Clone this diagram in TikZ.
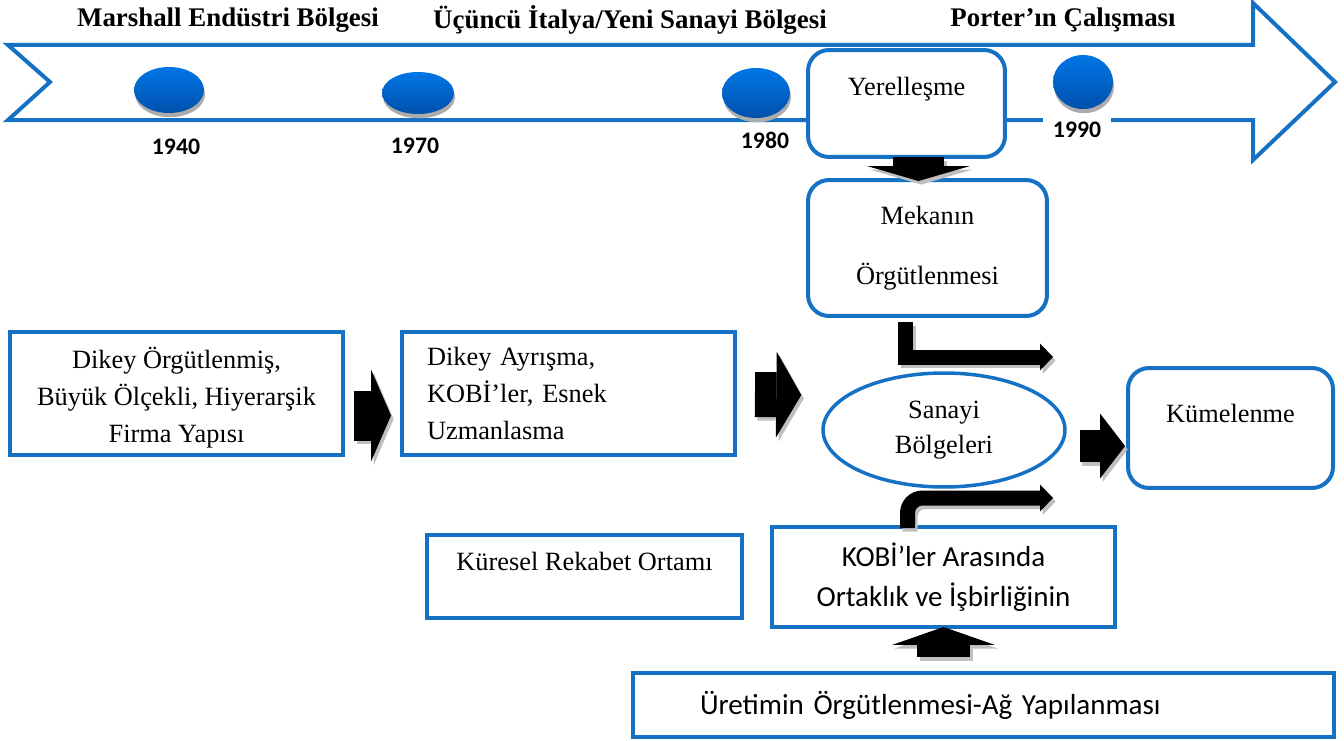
\documentclass[tikz,border=0pt]{standalone}
\usepackage{fontspec}
\setmainfont{Liberation Serif}
\newfontfamily\calfont{Carlito}
\usepackage{tikz}
\usetikzlibrary{arrows.meta}
\usetikzlibrary{shapes.geometric}
\usetikzlibrary{shadows}
\definecolor{tlblue}{RGB}{21,113,196}
\definecolor{disctop}{RGB}{0,118,230}
\definecolor{discbot}{RGB}{0,80,172}

\begin{document}
\begin{tikzpicture}[
		x=0.02cm,
		y=-0.02cm,
		every node/.style={
			inner sep=0pt
		},
		band/.style={
			draw=tlblue,
			line width=0.08cm,
			line join=miter
		},
		disc/.style={
			ellipse,
			top color=disctop,
			bottom color=discbot,
			drop shadow={shadow xshift=0.6pt, shadow yshift=-2.4pt, fill=gray!65, opacity=1}
		},
		title/.style={
			font=\bfseries\fontsize{15.3}{18}\selectfont
		},
		year/.style={
			font=\calfont\bfseries\fontsize{13.5}{16}\selectfont
		},
		box/.style={
			rectangle,
			draw=tlblue,
			line width=0.08cm,
			fill=white,
			font=\fontsize{15}{21}\selectfont
		},
		rbox/.style={
			box,
			rounded corners=0.42cm
		},
		bigarrow/.style n args={3}{
			line width=#1,
			-{Triangle[width=#2, length=#3, line width=0pt]}
		},
		shadowcopy/.style={
			color=gray!50,
			transform canvas={shift={(1.5pt,-2pt)}}
		}]

		\useasboundingbox (0,0) rectangle (1344,740);

		% time line
		\draw[band] (8,45) -- (1253,45) -- (1253,3) -- (1335,82) -- (1253,160) -- (1253,120) -- (8,120) -- (50,82) -- cycle;

		\node[disc, minimum width=1.4cm, minimum height=0.92cm] (d1940) at (169,90) {};
		\node[disc, minimum width=1.44cm, minimum height=0.84cm] (d1970) at (418,93) {};
		\node[disc, minimum width=1.36cm, minimum height=1.0cm] (d1980) at (756,93) {};
		\node[disc, minimum width=1.2cm, minimum height=1.08cm] (d1990) at (1083,82) {};

		%labels
		\node[year] (y1940) at (176,147) {1940};
		\node[year] (y1970) at (415,146) {1970};
		\node[year] (y1980) at (765,140) {1980};
		\node[year, fill=white, inner xsep=0.2cm, inner ysep=0.1cm] (y1990) at (1077,130) {1990};

		\node[title] (marshall) at (228,20) {Marshall Endüstri Bölgesi};
		\node[title] (italya) at (630,20) {Üçüncü İtalya/Yeni Sanayi Bölgesi};
		\node[title] (porter) at (1063,20) {Porter’ın Çalışması};

		% boxes
		\node[rbox, minimum width=3.94cm, text height=0.9cm, text depth=1.24cm] (yerel) at (906.5,103.5) {Yerelleşme};
		\node[rbox, minimum width=4.78cm, minimum height=2.72cm, align=center, font=\fontsize{15}{34}\selectfont] (mekan) at (927.5,248) {Mekanın\\Örgütlenmesi};
		\node[box, minimum width=6.66cm, minimum height=2.46cm, align=center] (firma) at (176.5,393.5) {\rule{0pt}{17pt}Dikey Örgütlenmiş,\\Büyük Ölçekli, Hiyerarşik\\Firma Yapısı};
		\node[box, text width=5.66cm, inner xsep=0.5cm, minimum height=2.46cm, align=left] (ayrisma) at (568.5,393.5) {Dikey Ayrışma,\\KOBİ’ler, Esnek\\Uzmanlasma};
		\node[ellipse, draw=tlblue, line width=0.07cm, minimum width=4.84cm, minimum height=2.28cm, align=center, font=\fontsize{15}{19.5}\selectfont] (sanayi) at (944,430) {Sanayi\\Bölgeleri};
		\node[rbox, minimum width=4.1cm, text height=1.08cm, text depth=1.32cm] (kume) at (1230.5,428) {Kümelenme};
		\node[box, minimum width=6.3cm, text height=0.7cm, text depth=0.96cm] (kuresel) at (584.5,576.5) {Küresel Rekabet Ortamı};
		\node[box, minimum width=6.86cm, minimum height=2cm, align=center, font=\calfont\fontsize{16.5}{22.8}\selectfont] (kobi) at (943.5,577) {KOBİ’ler Arasında\\Ortaklık ve İşbirliğinin};
		\node[box, text width=11.34cm, inner xsep=1.34cm, minimum height=1.28cm, align=left, font=\calfont\fontsize{16.5}{20}\selectfont] (uretim) at (983.5,705) {Üretimin Örgütlenmesi-Ağ Yapılanması};

		\coordinate (upend) at (1053,357);
		\coordinate (lowend) at (1053,498);

		% block arrows
		\draw[bigarrow={1cm}{1.84cm}{0.4cm}, shadowcopy] ([shift={(9,22)}]firma.east) -- ([shift={(-9,22)}]ayrisma.west);
		\draw[bigarrow={1cm}{1.84cm}{0.4cm}] ([shift={(9,22)}]firma.east) -- ([shift={(-9,22)}]ayrisma.west);
		\draw[bigarrow={0.9cm}{1.72cm}{0.5cm}, shadowcopy] ([shift={(18,1)}]ayrisma.east) -- ([shift={(-20,-35)}]sanayi.west);
		\draw[bigarrow={0.9cm}{1.72cm}{0.5cm}] ([shift={(18,1)}]ayrisma.east) -- ([shift={(-20,-35)}]sanayi.west);
		\draw[bigarrow={0.64cm}{1.3cm}{0.5cm}, shadowcopy] ([shift={(13,16)}]sanayi.east) -- ([shift={(-1,18)}]kume.west);
		\draw[bigarrow={0.64cm}{1.3cm}{0.5cm}] ([shift={(13,16)}]sanayi.east) -- ([shift={(-1,18)}]kume.west);
		\draw[bigarrow={1.02cm}{2.06cm}{0.3cm}, shadowcopy] ([shift={(12,-2)}]yerel.south) -- ([shift={(-9,3)}]mekan.north);
		\draw[bigarrow={1.02cm}{2.06cm}{0.3cm}] ([shift={(12,-2)}]yerel.south) -- ([shift={(-9,3)}]mekan.north);
		\draw[bigarrow={1.06cm}{2.06cm}{0.36cm}, shadowcopy] ([shift={(-40,-14)}]uretim.north) -- ([shift={(0,-2)}]kobi.south);
		\draw[bigarrow={1.06cm}{2.06cm}{0.36cm}] ([shift={(-40,-14)}]uretim.north) -- ([shift={(0,-2)}]kobi.south);

		% bent arrows
		\draw[bigarrow={0.3cm}{0.54cm}{0.26cm}, shadowcopy] ([shift={(-22,4)}]mekan.south) |- (upend);
		\draw[bigarrow={0.3cm}{0.54cm}{0.26cm}] ([shift={(-22,4)}]mekan.south) |- (upend);
		\draw[bigarrow={0.3cm}{0.54cm}{0.26cm}, rounded corners=0.3cm, shadowcopy] ([shift={(-36,3)}]kobi.north) |- (lowend);
		\draw[bigarrow={0.3cm}{0.54cm}{0.26cm}, rounded corners=0.3cm] ([shift={(-36,3)}]kobi.north) |- (lowend);

	\end{tikzpicture}
\end{document}
